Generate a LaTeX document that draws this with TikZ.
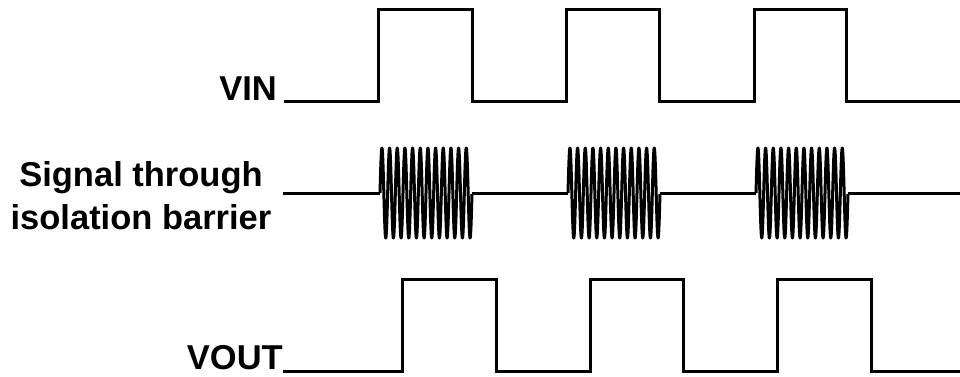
\documentclass[tikz,border=0pt]{standalone}
\usepackage{fontspec}
\setmainfont{Liberation Sans}
\usetikzlibrary{positioning}
\tikzset{
  wave/.style={line width=3pt, line join=miter},
  burst/.style={line width=3pt, line join=round},
  lbl/.style={font=\fontsize{34.5}{43}\selectfont\bfseries, inner sep=0pt, align=center}
}

\begin{document}
\begin{tikzpicture}[x=1pt, y=-1pt]
  \useasboundingbox (0,0) rectangle (960,376);
  % labels
  \node[lbl, anchor=base east] (vin) at (277,100) {VIN};
  \node[lbl] (sig) at (141,196) {Signal through\\isolation barrier};
  \node[lbl, anchor=base east] (vout) at (283,369.5) {VOUT};
  % input square wave
  \draw[wave] (284,101) -| (378,9) -| (472,101) -| (566,9) -| (659,101)
    -| (754,9) -| (846,101) -- (960,101);
  % modulated carrier
  \draw[wave] (283,193) -- (380,193) (472,193) -- (568,193)
    (660,193) -- (756,193) (848,193) -- (960,193);
  \foreach \s in {380,568,756} {
    \draw[burst] plot[domain=0:1, samples=241, smooth]
      ({\s+92*\x}, {193-45*sin(12*360*\x)});
  }
  % output square wave
  \draw[wave] (283,371) -| (402,279) -| (496,371) -| (590,279) -| (683,371)
    -| (777,279) -| (871,371) -- (960,371);
\end{tikzpicture}
\end{document}
